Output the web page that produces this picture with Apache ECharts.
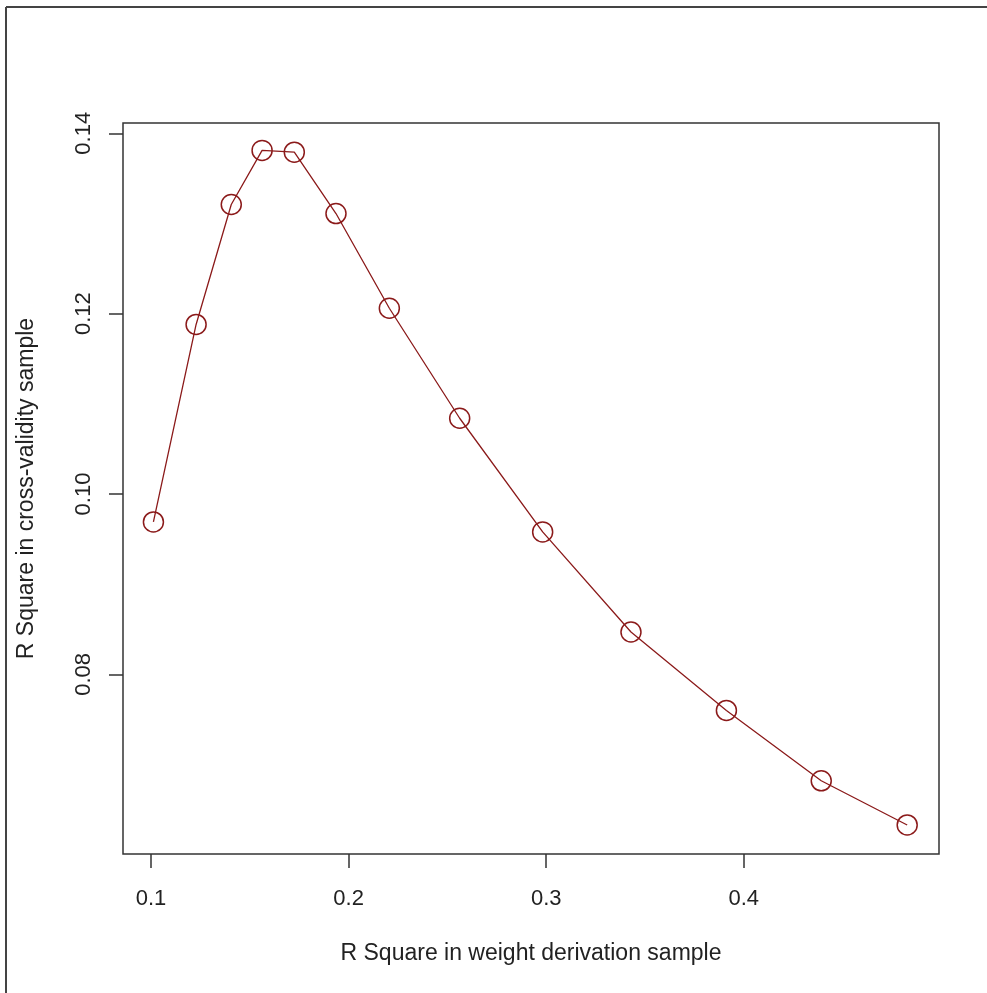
<!DOCTYPE html>
<html>
<head>
<meta charset="utf-8">
<script src="https://cdn.jsdelivr.net/npm/echarts@6/dist/echarts.min.js"></script>
<style>
  html, body { margin: 0; padding: 0; background: #fff; }
  #chart { width: 987px; height: 993px; }
</style>
</head>
<body>
<div id="chart"></div>
<script>
// R square values
var weightDerivR2 = [0.1012, 0.1228, 0.1406, 0.1562, 0.1725, 0.1936, 0.2206, 0.2562, 0.2982, 0.3429, 0.3912, 0.4392, 0.4827];
var crossValidR2 = [0.0969, 0.1188, 0.1321, 0.1381, 0.1379, 0.1311, 0.1206, 0.1084, 0.0958, 0.0847, 0.0760, 0.0682, 0.0633];
var xTicks = [0.1, 0.2, 0.3, 0.4];
var yTicks = [0.08, 0.10, 0.12, 0.14];

var lineColor = "#8B1A1A";
var font = "'Liberation Sans', Arial, sans-serif";

var myChart = echarts.init(document.getElementById("chart"));

var option = {
  animation: false,
  backgroundColor: "#fff",
  grid: {
    left: 123,
    top: 123,
    right: 48,
    bottom: 139,
    show: true,
    borderColor: "#333",
    borderWidth: 1.5
  },
  // outer frame (top and left edge only)
  graphic: [
    { type: "line", shape: { x1: 6, y1: 7, x2: 987, y2: 7 }, style: { stroke: "#444", lineWidth: 2 } },
    { type: "line", shape: { x1: 6, y1: 7, x2: 6, y2: 993 }, style: { stroke: "#444", lineWidth: 2 } }
  ],
  xAxis: {
    type: "value",
    min: 0.0858,
    max: 0.4988,
    name: "R Square in weight derivation sample",
    nameLocation: "middle",
    nameGap: 88,
    nameTextStyle: { fontSize: 23, color: "#222", fontFamily: font },
    splitLine: { show: false },
    axisLine: { show: false },
    axisTick: {
      show: true,
      length: 14,
      customValues: xTicks,
      lineStyle: { color: "#333", width: 1.5 }
    },
    axisLabel: {
      margin: 34,
      fontSize: 22,
      color: "#222",
      fontFamily: font,
      customValues: xTicks,
      formatter: function(v) { return v.toFixed(1); }
    }
  },
  yAxis: {
    type: "value",
    min: 0.06008,
    max: 0.14114,
    name: "R Square in cross-validity sample",
    nameLocation: "middle",
    nameRotate: 90,
    nameGap: 85,
    nameTextStyle: { fontSize: 23, color: "#222", fontFamily: font },
    splitLine: { show: false },
    axisLine: { show: false },
    axisTick: {
      show: true,
      length: 14,
      customValues: yTicks,
      lineStyle: { color: "#333", width: 1.5 }
    },
    axisLabel: {
      rotate: 90,
      margin: 28,
      fontSize: 22,
      color: "#222",
      fontFamily: font,
      customValues: yTicks,
      formatter: function(v) { return v.toFixed(2); }
    }
  },
  series: [
    {
      type: "line",
      data: weightDerivR2.map(function(x, i) { return [x, crossValidR2[i]]; }),
      symbol: "circle",
      symbolSize: 20,
      lineStyle: { color: lineColor, width: 1.3 },
      itemStyle: { color: "rgba(0,0,0,0)", borderColor: lineColor, borderWidth: 1.5 },
      emphasis: { disabled: true }
    }
  ]
};

myChart.setOption(option);
</script>
</body>
</html>
